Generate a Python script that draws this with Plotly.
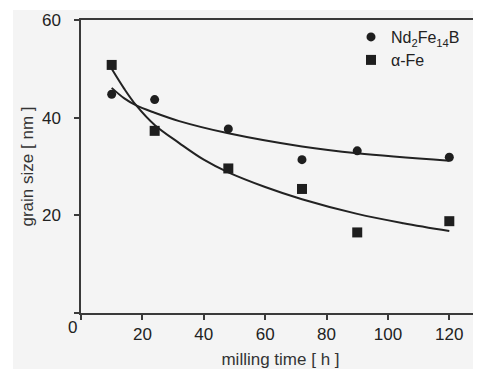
import plotly.graph_objects as go

# measured data
milling_time = [10, 24, 48, 72, 90, 120]
nd_grain = [44.8, 43.7, 37.7, 31.4, 33.2, 31.9]
fe_grain = [50.8, 37.3, 29.6, 25.4, 16.5, 18.8]

# fitted trend curves
nd_fit_x = [10, 14, 18, 24, 32, 48, 72, 90, 120]
nd_fit_y = [46.1, 44.0, 42.5, 41.0, 39.3, 36.8, 34.1, 32.7, 31.2]
fe_fit_x = [10, 14, 18, 24, 32, 40, 48, 60, 72, 90, 105, 120]
fe_fit_y = [50.0, 46.0, 42.5, 38.5, 34.8, 31.4, 28.8, 25.8, 23.3, 20.3, 18.4, 16.8]

x_tickvals = [0, 20, 40, 60, 80, 100, 120]
x_ticktext = ["", "20", "40", "60", "80", "100", "120"]
y_tickvals = [0, 20, 40, 60]
y_ticktext = ["", "20", "40", "60"]

BG = "#f4f4f4"
AX = "#3a3a3a"
FONT = "Liberation Sans, Arial, sans-serif"

# page body has an 8px default margin -> figure is laid out 8px in from top/left
L, R, T, B = 73, 1, 12, 56
W, H = 473, 361
PW, PH = W - L - R, H - T - B

fig = go.Figure()
for fx, fy in [(nd_fit_x, nd_fit_y), (fe_fit_x, fe_fit_y)]:
    fig.add_trace(go.Scatter(x=fx, y=fy, mode="lines",
                             line=dict(color="#222222", width=2, shape="spline", smoothing=1),
                             showlegend=False, hoverinfo="skip"))
fig.add_trace(go.Scatter(x=milling_time, y=nd_grain, mode="markers",
                         name="Nd<sub>2</sub>Fe<sub>14</sub>B", legend="legend",
                         marker=dict(symbol="circle", size=9, color="#1e1e1e")))
fig.add_trace(go.Scatter(x=milling_time, y=fe_grain, mode="markers",
                         name="α-Fe", legend="legend2",
                         marker=dict(symbol="square", size=10, color="#1e1e1e")))

leg_common = dict(xanchor="left", yanchor="middle", bgcolor="rgba(0,0,0,0)",
                  font=dict(size=16, color="#222222"), itemwidth=30)

fig.update_layout(
    width=W, height=H,
    margin=dict(l=L, r=R, t=T, b=B, autoexpand=False),
    paper_bgcolor=BG, plot_bgcolor=BG,
    font=dict(family=FONT, size=17, color="#222222"),
    legend=dict(x=(351 - 81) / PW, y=1 - (37 - 20) / PH, **leg_common),
    legend2=dict(x=(351 - 81) / PW, y=1 - (60 - 20) / PH, **leg_common),
    xaxis=dict(range=[0, 130], tickvals=x_tickvals, ticktext=x_ticktext,
               ticks="outside", ticklen=5, tickwidth=1.5, tickcolor=AX,
               showline=True, linecolor=AX, linewidth=1.5, mirror=True,
               showgrid=False, zeroline=False, ticklabelstandoff=0, automargin=False,
               title=dict(text="milling time [ h ]", standoff=14,
                          font=dict(size=17, color="#333333"))),
    yaxis=dict(range=[0, 60], tickvals=y_tickvals, ticktext=y_ticktext,
               ticks="outside", ticklen=5, tickwidth=1.5, tickcolor=AX,
               showline=True, linecolor=AX, linewidth=1.5, mirror=True,
               showgrid=False, zeroline=False, ticklabelstandoff=10, automargin=False,
               title=dict(text="grain size [ nm ]", standoff=4,
                          font=dict(size=17, color="#333333"))),
    shapes=[
        dict(type="rect", xref="paper", yref="paper",
             x0=-L / PW, x1=-(L - 5) / PW, y0=-B / PH, y1=1 + T / PH,
             fillcolor="white", line=dict(width=0), layer="above"),
        dict(type="rect", xref="paper", yref="paper",
             x0=-L / PW, x1=1 + R / PW, y0=1 + (T - 2) / PH, y1=1 + T / PH,
             fillcolor="white", line=dict(width=0), layer="above"),
    ],
    annotations=[
        dict(text="0", xref="paper", yref="paper", x=-9 / PW, y=-14 / PH,
             showarrow=False, font=dict(size=17, color="#222222"),
             xanchor="center", yanchor="middle"),
    ],
)

fig.write_html("out.html")
